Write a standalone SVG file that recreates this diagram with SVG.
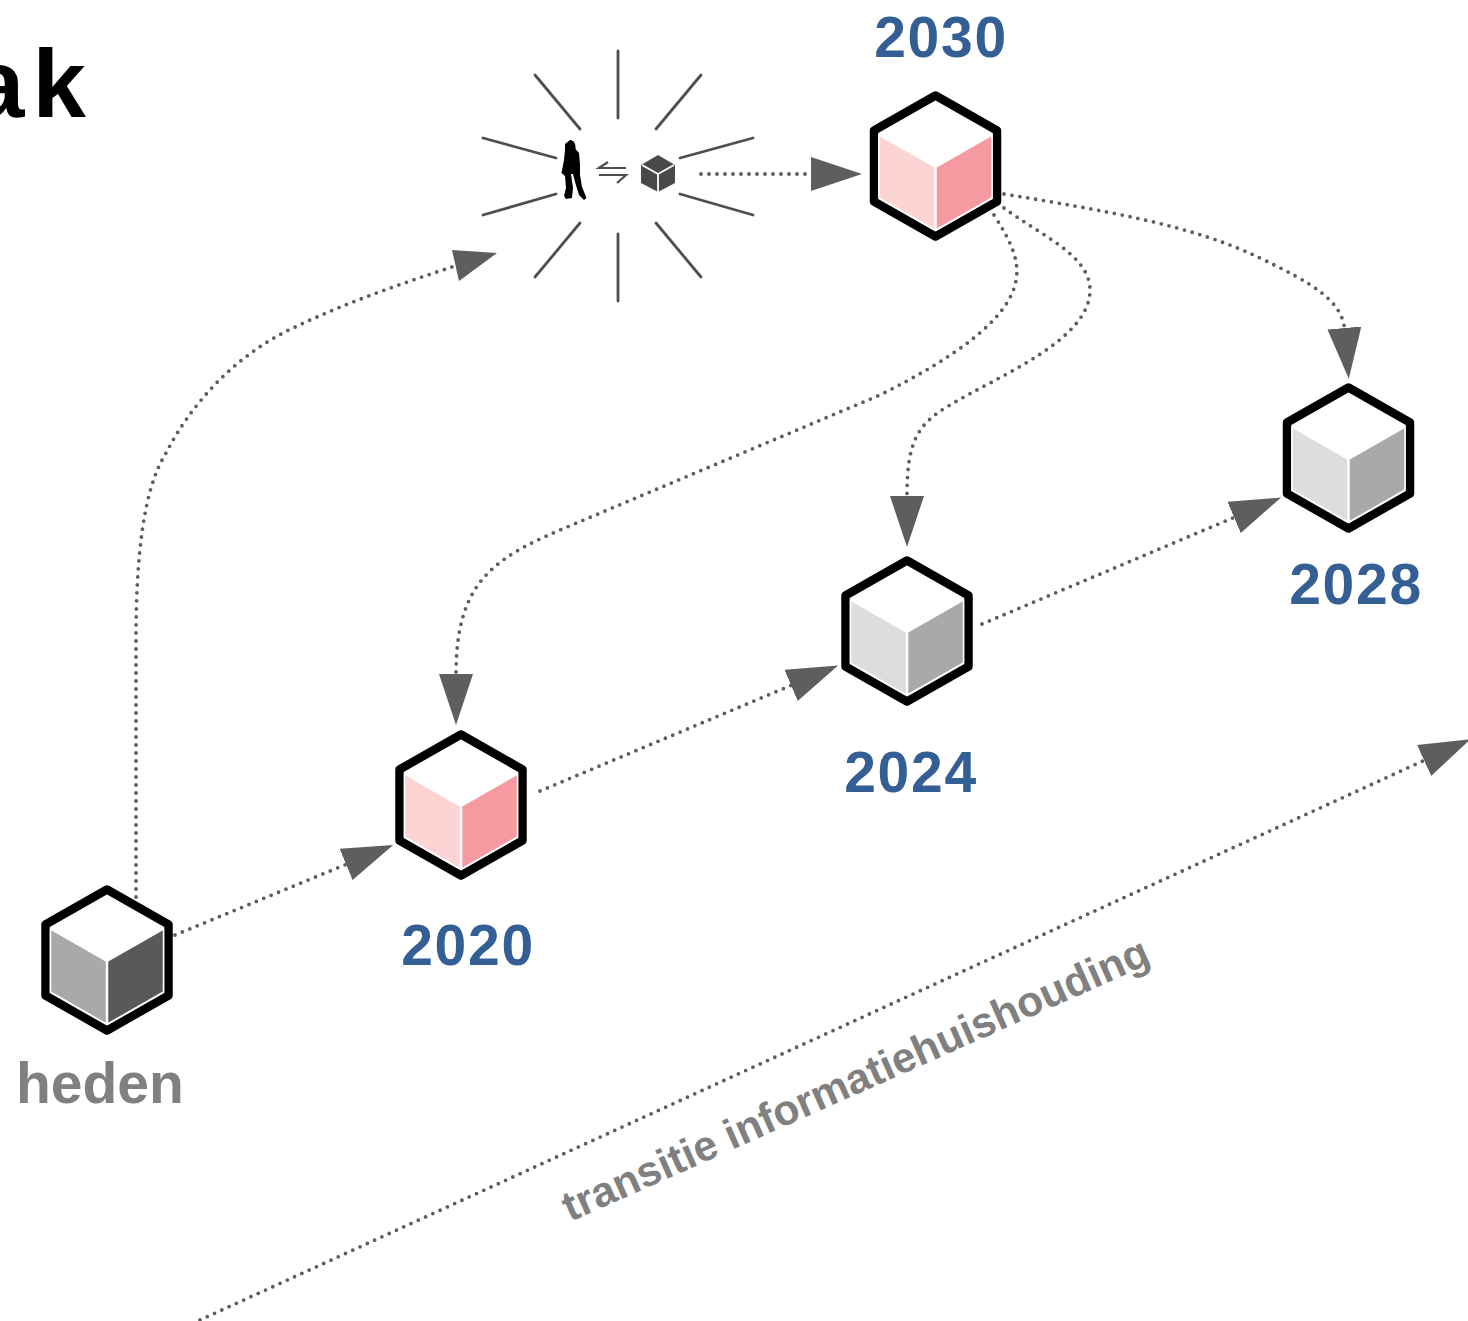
<svg xmlns="http://www.w3.org/2000/svg" xmlns:xlink="http://www.w3.org/1999/xlink" width="1468" height="1321" viewBox="0 0 1468 1321">
<style>
text{font-family:"Liberation Sans",Arial,sans-serif;font-weight:700}
.yr{font-size:57px;fill:#345f94;text-anchor:middle;letter-spacing:1.700px}
.gr{fill:#808080}
.line{fill:none;stroke:#5d5e60;stroke-width:3.800;stroke-linecap:round;stroke-dasharray:0 8}
.dot{marker-end:url(#arr)}
.ray{stroke:#4d4e50;stroke-width:2.800;stroke-linecap:round}
.hex{fill:#fff;stroke:#000;stroke-width:8.500;stroke-linejoin:round}
.face{stroke:#fff;stroke-width:1.500;stroke-linejoin:round}
.pl{fill:#fdd4d4}.pr{fill:#f59aa0}
.ll{fill:#dcddde}.lr{fill:#a8a9aa}
.dl{fill:#a8a9aa}.dr{fill:#58595b}
</style>
<defs>
<marker id="arr" markerUnits="userSpaceOnUse" markerWidth="54" markerHeight="36" refX="1" refY="17" orient="auto"><polygon points="0,0 51,17 0,34" fill="#5d5e60"/></marker>
<path id="h" d="M0-70.500 61.500-35.500V35.500L0 70.500-61.500 35.500V-35.500Z"/>
<path id="fl" d="M-56.500-31-.500 1V64L-56.500 32Z"/>
<path id="fr" d="M56.500-31 .500 1V64L56.500 32Z"/>
</defs>
<rect width="1468" height="1321" fill="#fff"/>
<text id="title" x="-29" y="117" font-size="96" letter-spacing="8" fill="#000">ak</text>

<g id="connectors">
<path class="line" d="M136 897V640C136 560 143 490 165 455C190 405 235 355 293 328C345 303 400 284 455 266"/>
<polygon points="452,250 497,253 459,281" fill="#5d5e60"/>
<path class="line dot" d="M701 174H812"/>
<path class="line dot" d="M1004 194C1100 210 1190 224 1260 258C1310 282 1342 300 1344.500 329"/>
<path class="line dot" d="M1004 208C1040 235 1090 255 1090 290C1090 340 1000 375 950 405C915 425 907 445 907 497"/>
<path class="line dot" d="M994 215C1010 240 1020 260 1016 280C1010 320 950 360 880 395L560 530C490 560 456 585 456 675"/>
<path class="line dot" d="M175 935 347 864"/>
<path class="line dot" d="M540 791 792 685"/>
<path class="line dot" d="M982 624 1235 517"/>
<path class="line dot" d="M200 1320 1425 760"/>
</g>

<g id="mens-object">
<g class="ray">
<path d="M618 51V118M618 234V301M535 75 580 129M701 75 656 129M483 138 556 158M753 138 680 158M483 215 556 194M753 215 680 194M535 277 580 223M701 277 656 223"/>
</g>
<path id="person" fill="#000" d="M570 140C574 140 576 144 575.500 149L579 153 580 165 580 175 582 187 586.500 198 584 200 579 195 575 182 573 174 571 174 573 188 572 198 566 199 564 196 566 188 565 176 561.500 173 564 160 565 150 565 144Z"/>
<path fill="none" stroke="#4d4e50" stroke-width="2.200" d="M608 162 599 168H626M599 175H626L617 183"/>
<g id="mini-cube">
<path fill="#48494b" d="M658 155 675 165V183L658 192 641 183V165Z"/>
<path fill="none" stroke="#fff" stroke-width="1.800" d="M642 165 658 174 674 165M658 174V192"/>
</g>
</g>

<g id="node-2030" transform="translate(935.500 166)"><use href="#h" class="hex"/><use href="#fl" class="face pl"/><use href="#fr" class="face pr"/></g>
<text class="yr" x="941" y="57">2030</text>

<g id="node-2028" transform="translate(1348.500 458)"><use href="#h" class="hex"/><use href="#fl" class="face ll"/><use href="#fr" class="face lr"/></g>
<text class="yr" x="1356" y="604">2028</text>

<g id="node-2024" transform="translate(907 631)"><use href="#h" class="hex"/><use href="#fl" class="face ll"/><use href="#fr" class="face lr"/></g>
<text class="yr" x="911" y="792">2024</text>

<g id="node-2020" transform="translate(461 805)"><use href="#h" class="hex"/><use href="#fl" class="face pl"/><use href="#fr" class="face pr"/></g>
<text class="yr" x="468" y="965">2020</text>

<g id="node-heden" transform="translate(107 960)"><use href="#h" class="hex"/><use href="#fl" class="face dl"/><use href="#fr" class="face dr"/></g>
<text class="gr" x="16" y="1103" font-size="57">heden</text>

<text class="gr" transform="translate(570 1222) rotate(-24)" font-size="42.500">transitie informatiehuishouding</text>
</svg>
